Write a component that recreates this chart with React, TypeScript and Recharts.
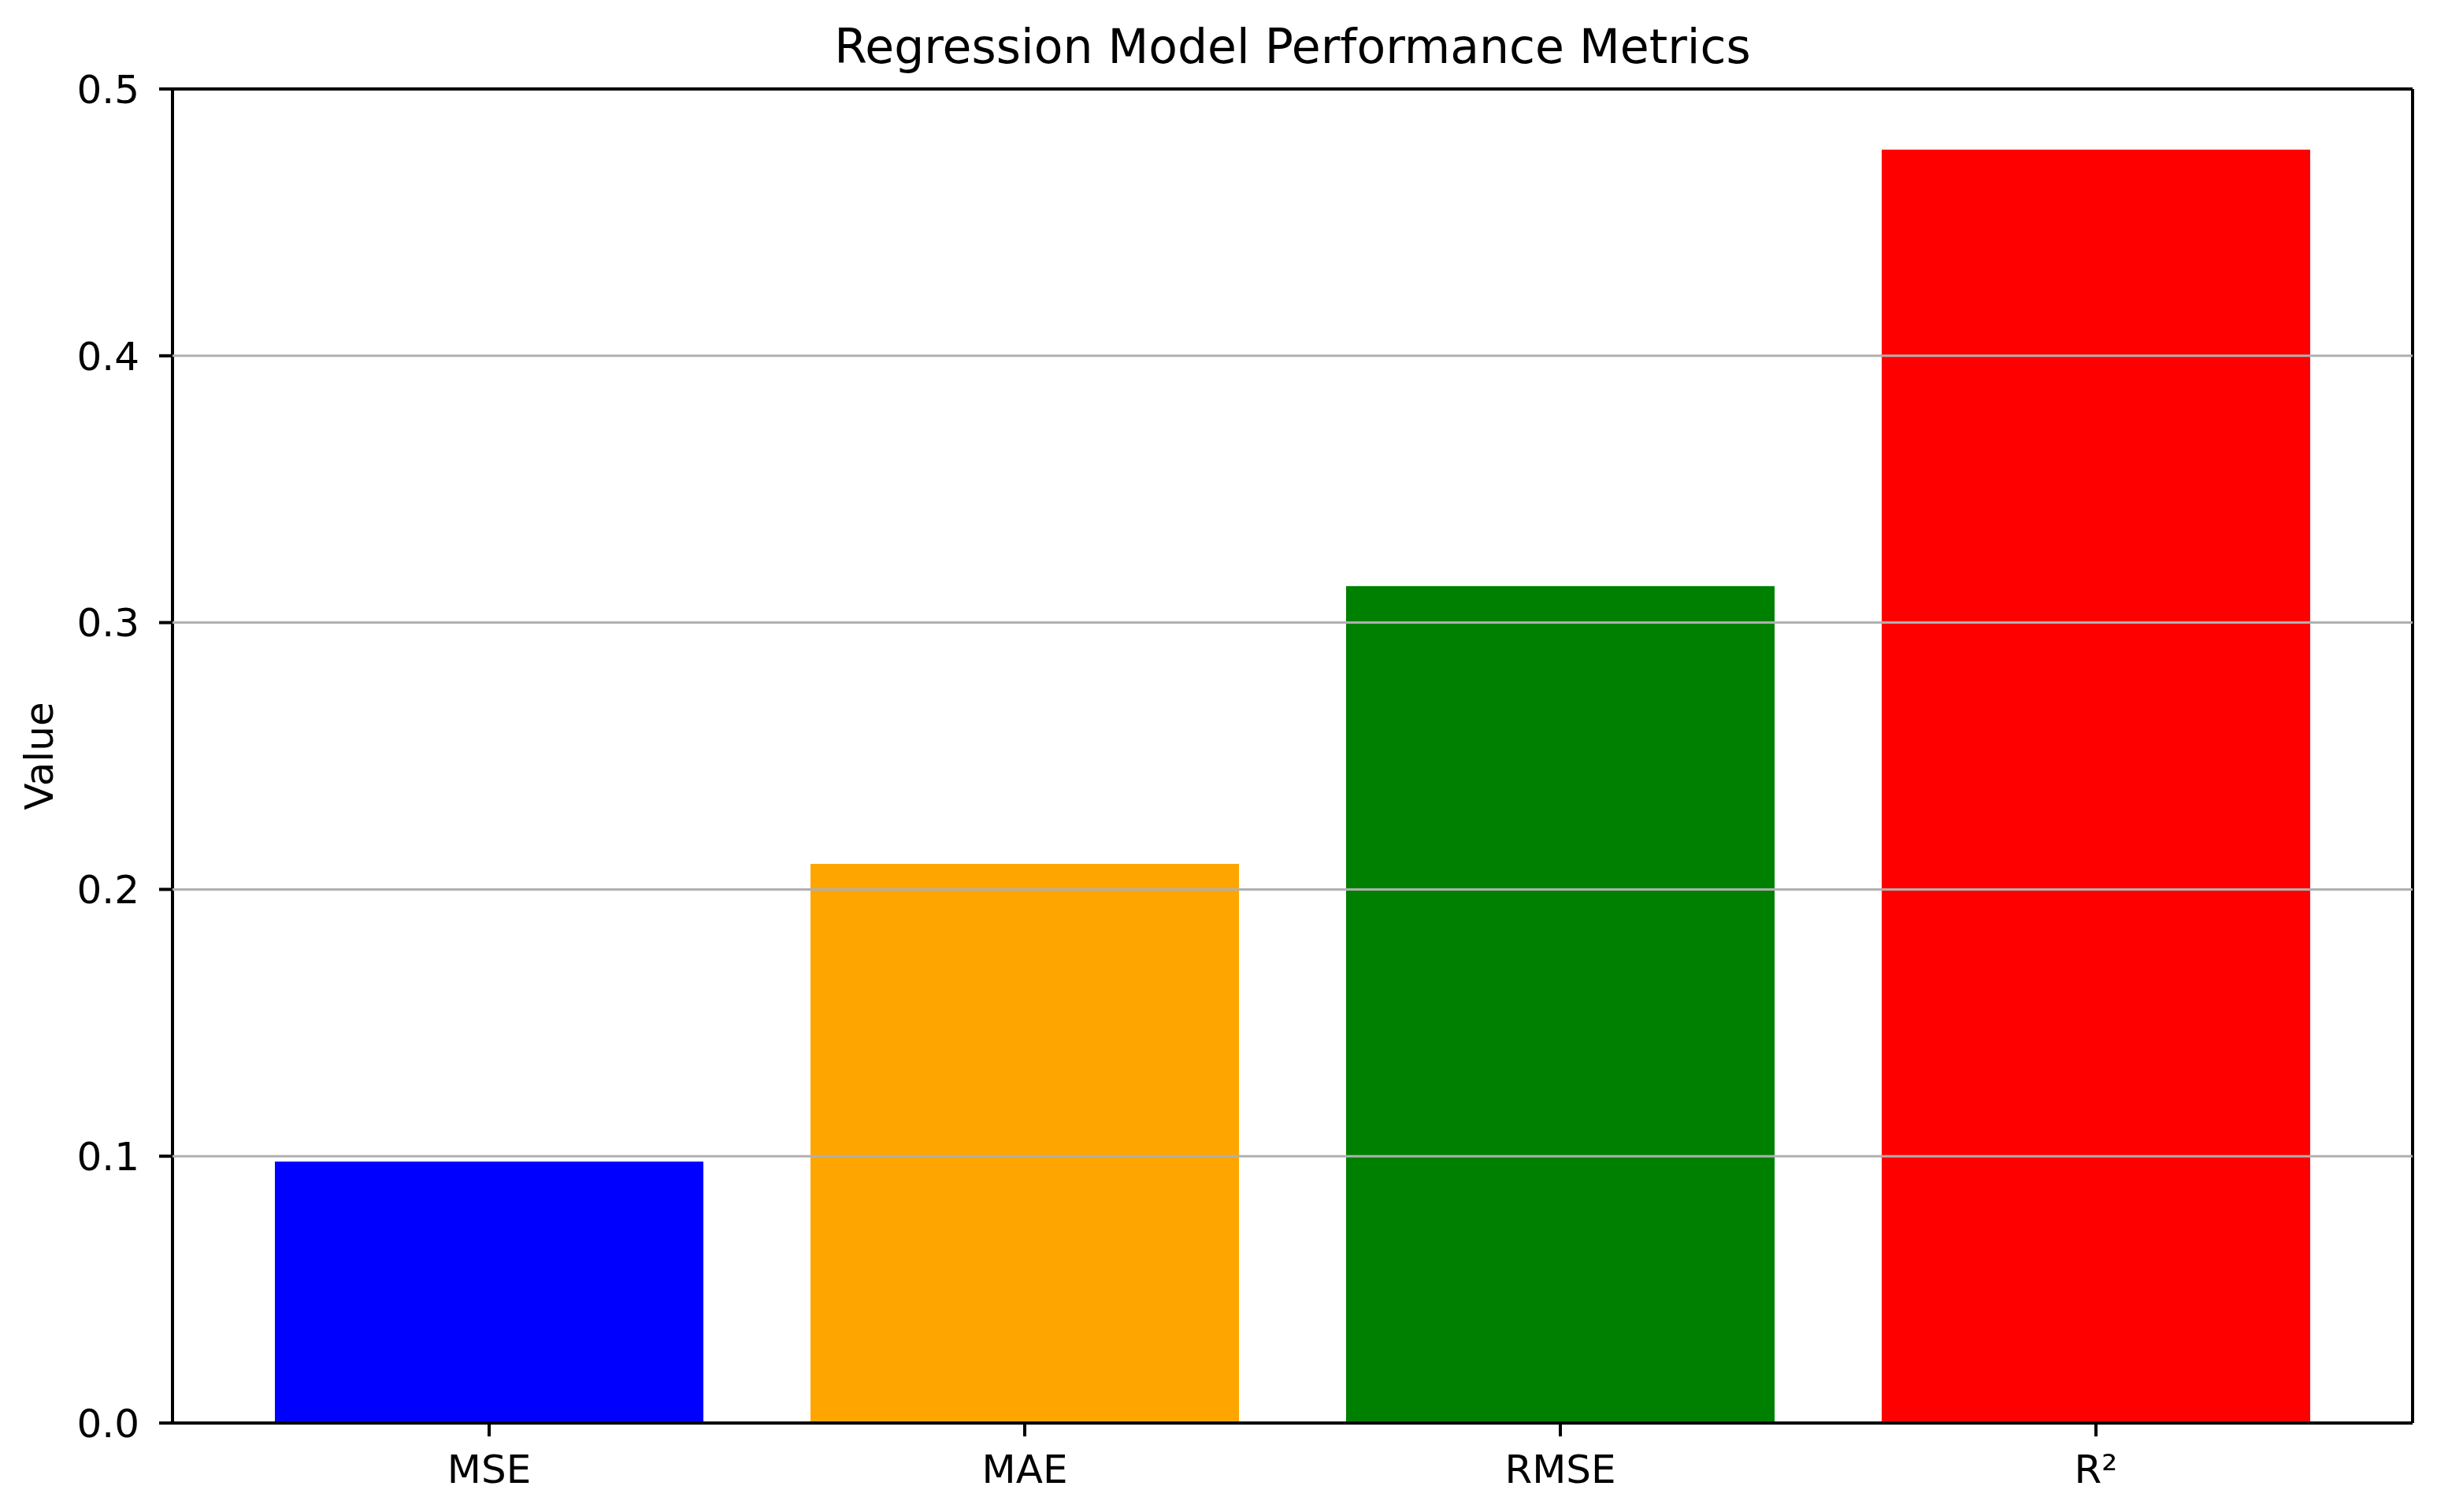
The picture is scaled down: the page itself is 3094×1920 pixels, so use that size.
import React from 'react';
import { BarChart, Bar, XAxis, YAxis, Cell, ReferenceLine } from 'recharts';

const metrics = ['MSE', 'MAE', 'RMSE', 'R²'];
const values = [0.098, 0.2096, 0.3137, 0.4773];
const barColors = ['#0000ff', '#ffa500', '#008000', '#ff0000'];
const yTicks = [0, 0.1, 0.2, 0.3, 0.4, 0.5];

const FONT = '"DejaVu Sans", sans-serif';

const App: React.FC = () => {
    const data = metrics.map((name, i) => ({ name, value: values[i] }));
    const gridTicks = yTicks.filter(t => t > 0 && t < 0.5);

    return (
        <div style={{ position: 'absolute', left: 0, top: 0, width: 3094, height: 1920, background: '#fff', fontFamily: FONT }}>
            <div
                style={{
                    position: 'absolute',
                    top: 24,
                    left: 219,
                    width: 2844,
                    textAlign: 'center',
                    fontSize: 60,
                    lineHeight: '70px',
                    color: '#000',
                }}
            >
                Regression Model Performance Metrics
            </div>

            <BarChart
                width={3094}
                height={1920}
                data={data}
                margin={{ top: 112, right: 30, bottom: 0, left: 0 }}
                barCategoryGap="10%"
            >
                <Bar dataKey="value" isAnimationActive={false}>
                    {data.map((entry, index) => (
                        <Cell key={`cell-${index}`} fill={barColors[index]} />
                    ))}
                </Bar>
                {/* grid sits above the bars, like matplotlib's default */}
                {gridTicks.map(t => (
                    <ReferenceLine key={t} y={t} stroke="#b0b0b0" strokeWidth={3} zIndex={600} />
                ))}
                <XAxis
                    dataKey="name"
                    height={113}
                    padding={{ left: 62, right: 62 }}
                    axisLine={{ stroke: '#000', strokeWidth: 4 }}
                    tickLine={{ stroke: '#000', strokeWidth: 4 }}
                    tickSize={17}
                    tickMargin={23}
                    tick={{ fill: '#000', fontSize: 50, fontFamily: FONT }}
                    interval={0}
                />
                <XAxis
                    xAxisId="top"
                    orientation="top"
                    dataKey="name"
                    height={1}
                    tick={false}
                    tickLine={false}
                    axisLine={{ stroke: '#000', strokeWidth: 4 }}
                />
                <YAxis
                    width={219}
                    domain={[0, 0.5]}
                    ticks={yTicks}
                    tickFormatter={(v: number) => v.toFixed(1)}
                    axisLine={{ stroke: '#000', strokeWidth: 4 }}
                    tickLine={{ stroke: '#000', strokeWidth: 4 }}
                    tickSize={17}
                    tickMargin={25}
                    tick={{ fill: '#000', fontSize: 50, fontFamily: FONT }}
                    label={{ value: 'Value', angle: -90, position: 'center', dx: -60, fill: '#000', fontSize: 50, fontFamily: FONT }}
                />
                <YAxis
                    yAxisId="right"
                    orientation="right"
                    width={1}
                    domain={[0, 0.5]}
                    tick={false}
                    tickLine={false}
                    axisLine={{ stroke: '#000', strokeWidth: 4 }}
                />
            </BarChart>
        </div>
    );
};

export default App;
